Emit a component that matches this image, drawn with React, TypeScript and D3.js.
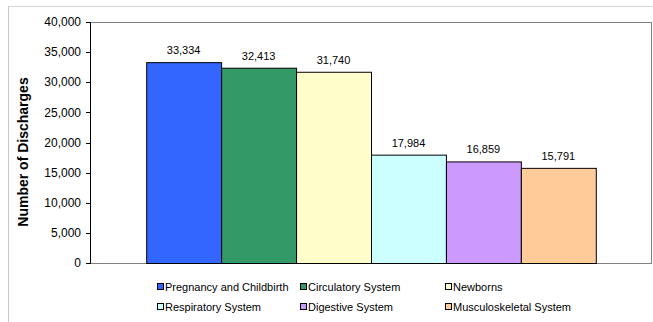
import React from "react";
import * as d3 from "d3";

// Hospital discharges by diagnosis group
const categories = [
  "Pregnancy and Childbirth",
  "Circulatory System",
  "Newborns",
  "Respiratory System",
  "Digestive System",
  "Musculoskeletal System",
];
const discharges = [33334, 32413, 31740, 17984, 16859, 15791];
const colors = ["#3366FF", "#339966", "#FFFFCC", "#CCFFFF", "#CC99FF", "#FFCC99"];
const yTicks = [0, 5000, 10000, 15000, 20000, 25000, 30000, 35000, 40000];

const W = 653;
const H = 322;
const plot = { left: 90, right: 652, top: 22, bottom: 263 };
const font = "Arial, 'Liberation Sans', Helvetica, sans-serif";

export default function App() {
  const y = d3.scaleLinear().domain([0, 40000]).range([plot.bottom, plot.top]);

  // One category with six series; gap width 150% of a bar split on both sides
  const barW = (plot.right - plot.left) / (categories.length + 1.5);
  const x = d3
    .scaleBand<string>()
    .domain(categories)
    .range([plot.left + 0.75 * barW, plot.right - 0.75 * barW])
    .padding(0);

  const fmt = d3.format(",");

  // Legend grid: three columns, two rows
  const legendCols = [157, 300, 445];
  const legendRows = [287, 307];

  return (
    <div style={{ position: "fixed", left: 0, top: 0, width: W, height: H, background: "#fff" }}>
      <svg width={W} height={H} style={{ display: "block" }} fontFamily={font}>
        <rect x={0} y={0} width={W} height={H} fill="#fff" />
        {/* outer chart frame */}
        <line x1={8.5} x2={8.5} y1={6} y2={H} stroke="#c8c8c8" strokeWidth={1} />
        <line x1={8} x2={W} y1={6.5} y2={6.5} stroke="#d4d4d4" strokeWidth={1} />

        {/* plot area border */}
        <line x1={plot.left} x2={plot.right} y1={plot.top + 0.5} y2={plot.top + 0.5} stroke="#808080" />
        <line x1={plot.right - 0.5} x2={plot.right - 0.5} y1={plot.top} y2={plot.bottom} stroke="#808080" />
        <line x1={plot.left} x2={plot.right} y1={plot.bottom + 0.5} y2={plot.bottom + 0.5} stroke="#808080" />

        {/* bars */}
        {categories.map((c, i) => (
          <rect
            key={c}
            x={x(c)! + 0.5}
            y={y(discharges[i]) + 0.5}
            width={x.bandwidth()}
            height={plot.bottom - y(discharges[i])}
            fill={colors[i]}
            stroke="#000"
            strokeWidth={1}
          />
        ))}

        {/* value labels */}
        {categories.map((c, i) => (
          <text
            key={c + "-v"}
            x={x(c)! + x.bandwidth() / 2}
            y={y(discharges[i]) - 8}
            textAnchor="middle"
            fontSize={11}
            fill="#000"
          >
            {fmt(discharges[i])}
          </text>
        ))}

        {/* y axis */}
        <line x1={plot.left + 0.5} x2={plot.left + 0.5} y1={plot.top} y2={plot.bottom + 1} stroke="#000" />
        {yTicks.map((t) => (
          <g key={t}>
            <line x1={plot.left - 4} x2={plot.left} y1={Math.round(y(t)) + 0.5} y2={Math.round(y(t)) + 0.5} stroke="#000" />
            <text x={81} y={y(t)} dy="0.35em" textAnchor="end" fontSize={12} fill="#000">
              {fmt(t)}
            </text>
          </g>
        ))}
        <text
          transform="translate(28,152) rotate(-90)"
          textAnchor="middle"
          fontSize={14}
          fontWeight="bold"
          fill="#000"
        >
          Number of Discharges
        </text>

        {/* legend */}
        {categories.map((c, i) => {
          const lx = legendCols[i % 3];
          const ly = legendRows[Math.floor(i / 3)];
          return (
            <g key={c + "-l"}>
              <rect x={lx + 0.5} y={ly - 3.5} width={6} height={6} fill={colors[i]} stroke="#000" strokeWidth={1} />
              <text x={lx + 8} y={ly} dy="0.35em" fontSize={11} fill="#000">
                {c}
              </text>
            </g>
          );
        })}
      </svg>
    </div>
  );
}
